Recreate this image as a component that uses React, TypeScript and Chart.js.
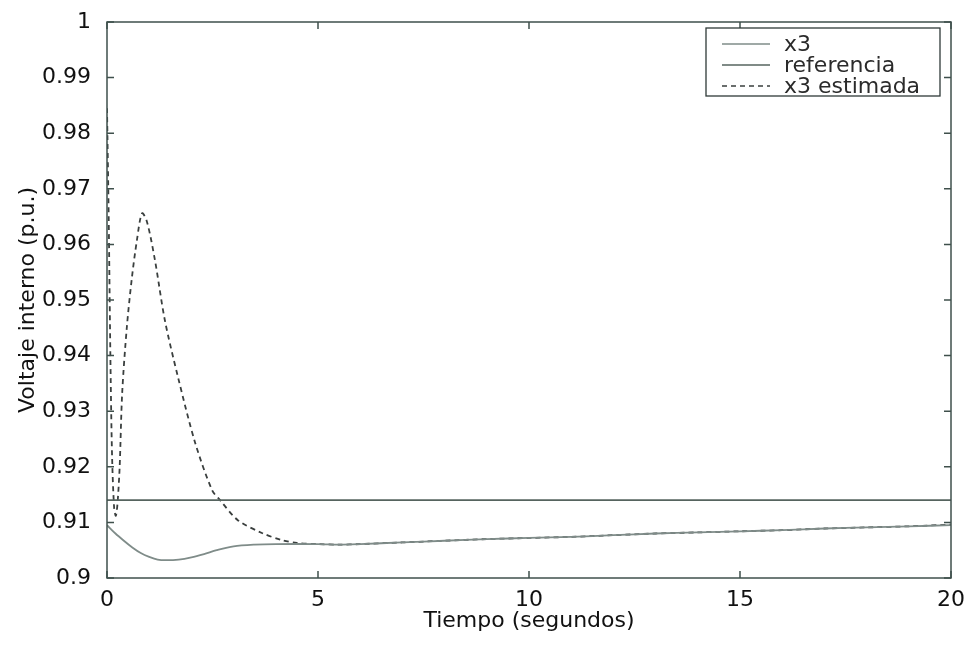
import React, { useEffect, useRef } from "react";
import { Chart, registerables } from "chart.js";

Chart.register(...registerables);

// ---- Data ----
const TIME_X3 = [0, 0.2, 0.4, 0.6, 0.8, 1.0, 1.2, 1.4, 1.7, 2.0, 2.3, 2.6, 3.0, 3.5, 4, 5, 5.5, 6, 7, 8, 9, 10, 11, 12, 13, 14, 15, 16, 17, 18, 19, 20];
const X3 = [0.9095, 0.908, 0.9067, 0.9055, 0.9045, 0.9038, 0.9033, 0.9032, 0.9033, 0.9037, 0.9043, 0.905, 0.9057, 0.906, 0.9061, 0.9061, 0.906, 0.9061, 0.9064, 0.9067, 0.907, 0.9072, 0.9074, 0.9077, 0.908, 0.9082, 0.9084, 0.9086, 0.9089, 0.9091, 0.9093, 0.9095];

const TIME_EST = [0, 0.04, 0.08, 0.12, 0.17, 0.21, 0.25, 0.3, 0.36, 0.47, 0.59, 0.71, 0.83, 0.95, 1.14, 1.37, 1.68, 2.09, 2.49, 2.68, 3.1, 3.67, 4.15, 4.5, 5, 5.5, 6, 7, 8, 9, 10, 11, 12, 13, 14, 15, 16, 17, 18, 19, 20];
const X3_EST = [0.9845, 0.965, 0.94, 0.922, 0.9125, 0.9112, 0.9135, 0.92, 0.9333, 0.9451, 0.954, 0.9608, 0.9656, 0.964, 0.957, 0.9464, 0.9362, 0.9243, 0.9158, 0.914, 0.9104, 0.9081, 0.9068, 0.9063, 0.9061, 0.906, 0.9061, 0.9064, 0.9067, 0.907, 0.9072, 0.9074, 0.9077, 0.908, 0.9082, 0.9084, 0.9086, 0.9089, 0.9091, 0.9093, 0.9096];

const TIME_REF = [0, 20];
const REF = [0.914, 0.914];

const SERIES_NAMES = ["x3", "referencia", "x3 estimada"];
const X_TICKS = [0, 5, 10, 15, 20];

const FONT = "'DejaVu Sans', 'Liberation Sans', Arial, sans-serif";
const FRAME = "#3f504c";
const COLORS = ["#7f8c89", "#56645f", "#3a3f3e"];

const toPts = (xs: number[], ys: number[]) => xs.map((x, i) => ({ x, y: ys[i] }));

const framePlugin = {
  id: "matlabFrame",
  afterDatasetsDraw(chart: any) {
    const { ctx, chartArea: a, scales } = chart;
    ctx.save();
    ctx.strokeStyle = FRAME;
    ctx.lineWidth = 1.5;
    ctx.strokeRect(a.left, a.top, a.right - a.left, a.bottom - a.top);
    const tl = 7;
    ctx.beginPath();
    scales.y.ticks.forEach((t: any) => {
      const py = scales.y.getPixelForValue(t.value);
      ctx.moveTo(a.left, py);
      ctx.lineTo(a.left + tl, py);
      ctx.moveTo(a.right, py);
      ctx.lineTo(a.right - tl, py);
    });
    scales.x.ticks.forEach((t: any) => {
      const px = scales.x.getPixelForValue(t.value);
      ctx.moveTo(px, a.bottom);
      ctx.lineTo(px, a.bottom - tl);
      ctx.moveTo(px, a.top);
      ctx.lineTo(px, a.top + tl);
    });
    ctx.stroke();

    // legend box (MATLAB style, inside the axes at top right)
    const bx = 706, by = 28, bw = 234, bh = 68;
    ctx.fillStyle = "#ffffff";
    ctx.fillRect(bx, by, bw, bh);
    ctx.strokeStyle = "#2f3a38";
    ctx.lineWidth = 1.3;
    ctx.strokeRect(bx, by, bw, bh);
    ctx.font = `22px ${FONT}`;
    ctx.textBaseline = "middle";
    ctx.textAlign = "left";
    chart.data.datasets.forEach((ds: any, i: number) => {
      const ry = by + 16 + i * 21;
      ctx.beginPath();
      ctx.strokeStyle = ds.borderColor;
      ctx.lineWidth = 1.6;
      ctx.setLineDash(ds.borderDash || []);
      ctx.moveTo(bx + 16, ry);
      ctx.lineTo(bx + 64, ry);
      ctx.stroke();
      ctx.setLineDash([]);
      ctx.fillStyle = "#2b2b2b";
      ctx.fillText(ds.label, bx + 78, ry + 1);
    });
    ctx.restore();
  },
};

export default function App() {
  const ref = useRef<HTMLCanvasElement | null>(null);
  useEffect(() => {
    if (!ref.current) return;
    const chart = new Chart(ref.current, {
      type: "line",
      data: {
        datasets: [
          {
            label: SERIES_NAMES[0],
            data: toPts(TIME_X3, X3),
            borderColor: COLORS[0],
            borderWidth: 1.8,
            pointRadius: 0,
            tension: 0.3,
          },
          {
            label: SERIES_NAMES[1],
            data: toPts(TIME_REF, REF),
            borderColor: COLORS[1],
            borderWidth: 1.7,
            pointRadius: 0,
          },
          {
            label: SERIES_NAMES[2],
            data: toPts(TIME_EST, X3_EST),
            borderColor: COLORS[2],
            borderWidth: 1.8,
            borderDash: [5, 4],
            pointRadius: 0,
            tension: 0.3,
          },
        ],
      },
      options: {
        animation: false,
        responsive: true,
        maintainAspectRatio: false,
        layout: { padding: { top: 22, right: 16, left: 0, bottom: 0 } },
        plugins: { legend: { display: false }, tooltip: { enabled: false } },
        scales: {
          x: {
            type: "linear",
            min: 0,
            max: 20,
            afterBuildTicks: (s: any) => {
              s.ticks = X_TICKS.map((v) => ({ value: v }));
            },
            afterFit: (s: any) => {
              s.height = 72;
              s.paddingRight = 0;
              s.paddingLeft = 0;
            },
            grid: { display: false },
            border: { display: false },
            ticks: {
              color: "#111",
              font: { family: FONT, size: 22 },
              padding: 1,
              maxRotation: 0,
            },
            title: {
              display: true,
              text: "Tiempo (segundos)",
              color: "#111",
              font: { family: FONT, size: 22 },
              padding: { bottom: 16, top: 0 },
            },
          },
          y: {
            type: "linear",
            min: 0.9,
            max: 1,
            ticks: {
              stepSize: 0.01,
              color: "#111",
              font: { family: FONT, size: 22 },
              padding: 8,
              callback: (v: any) => String(Number(Number(v).toFixed(2))),
            },
            afterFit: (s: any) => {
              s.width = 107;
              s.paddingTop = 0;
              s.paddingBottom = 0;
            },
            grid: { display: false },
            border: { display: false },
            title: {
              display: true,
              text: "Voltaje interno (p.u.)",
              color: "#111",
              font: { family: FONT, size: 22 },
              padding: { top: 15, bottom: 0 },
            },
          },
        },
      },
      plugins: [framePlugin],
    });
    return () => chart.destroy();
  }, []);

  return (
    <div style={{ position: "fixed", left: 0, top: 0, width: 967, height: 650, background: "#fff" }}>
      <canvas ref={ref} />
    </div>
  );
}
